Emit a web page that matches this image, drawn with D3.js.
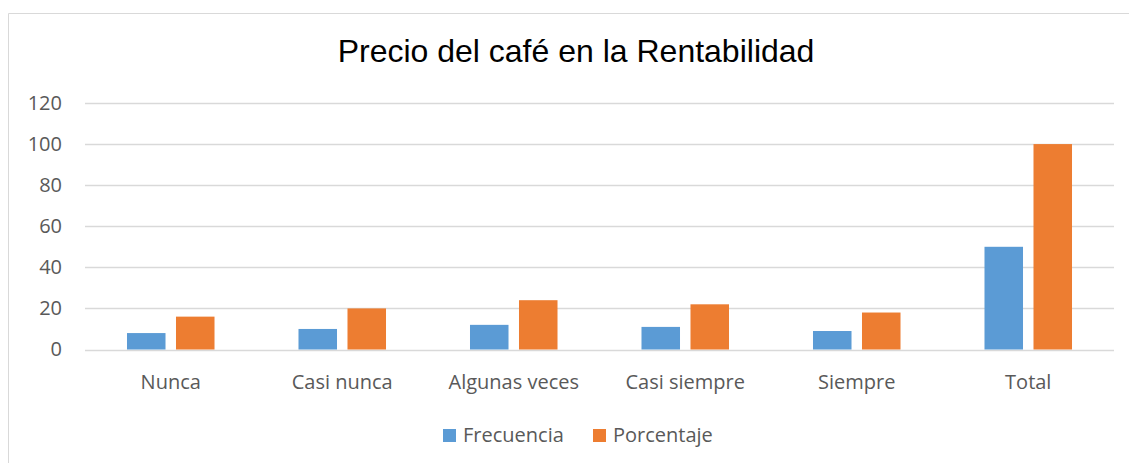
<!DOCTYPE html>
<html lang="es">
<head>
<meta charset="utf-8">
<title>Precio del café en la Rentabilidad</title>
<script src="https://cdn.jsdelivr.net/npm/d3@7"></script>
<style>
  body { margin: 0; background: #fff; }
  svg { display: block; }
  .tick text, .cat, .leg { font-family: "Open Sans", sans-serif; font-size: 20px; fill: #595959; }
</style>
</head>
<body>
<svg id="chart"></svg>
<script>
// datos
var categorias = ["Nunca", "Casi nunca", "Algunas veces", "Casi siempre", "Siempre", "Total"];
var series = ["Frecuencia", "Porcentaje"];
var frecuencia = [8, 10, 12, 11, 9, 50];
var porcentaje = [16, 20, 24, 22, 18, 100];
var yTicks = [0, 20, 40, 60, 80, 100, 120];

var width = 1129, height = 463;
var colores = { "Frecuencia": "#5b9bd5", "Porcentaje": "#ed7d31" };

var svg = d3.select("#chart").attr("width", width).attr("height", height);

// marco del gráfico
svg.append("path")
    .attr("d", "M8.5," + height + "V13.5H" + width)
    .attr("fill", "none")
    .attr("stroke", "#d9d9d9")
    .attr("stroke-width", 1);

svg.append("text")
    .attr("x", 576)
    .attr("y", 62)
    .attr("text-anchor", "middle")
    .style("font-family", "'Liberation Sans', Arial, sans-serif")
    .style("font-size", "32px")
    .style("fill", "#000")
    .text("Precio del café en la Rentabilidad");

var x0 = d3.scaleBand().domain(categorias).range([85, 1114]).padding(0);
var x1 = d3.scaleBand().domain(series).range([0, x0.bandwidth()])
    .paddingInner(0.214).paddingOuter(0.857);
var y = d3.scaleLinear().domain([0, 120]).range([349.5, 103]);

// rejilla
svg.append("g").selectAll("line")
    .data(yTicks)
    .enter().append("line")
    .attr("x1", 85).attr("x2", 1114)
    .attr("y1", function(d) { return Math.round(y(d)) + 0.5; })
    .attr("y2", function(d) { return Math.round(y(d)) + 0.5; })
    .attr("stroke", "#d9d9d9")
    .attr("stroke-width", 1.4);

var yAxis = svg.append("g")
    .attr("transform", "translate(62,0)")
    .call(d3.axisLeft(y).tickValues(yTicks).tickSize(0).tickPadding(0));
yAxis.select(".domain").remove();
yAxis.selectAll(".tick text").style("font-family", "'Open Sans', sans-serif").style("font-size", "20px").attr("fill", "#595959");

var filas = categorias.map(function(c, i) {
  return { cat: c, valores: [
    { serie: "Frecuencia", v: frecuencia[i] },
    { serie: "Porcentaje", v: porcentaje[i] }
  ]};
});

var grupos = svg.append("g").selectAll("g")
    .data(filas)
    .enter().append("g")
    .attr("transform", function(d) { return "translate(" + x0(d.cat) + ",0)"; });

grupos.selectAll("rect")
    .data(function(d) { return d.valores; })
    .enter().append("rect")
    .attr("x", function(d) { return x1(d.serie); })
    .attr("y", function(d) { return y(d.v); })
    .attr("width", x1.bandwidth())
    .attr("height", function(d) { return y(0) - y(d.v); })
    .attr("fill", function(d) { return colores[d.serie]; });

svg.append("g").selectAll("text")
    .data(categorias)
    .enter().append("text")
    .attr("class", "cat")
    .attr("x", function(d) { return x0(d) + x0.bandwidth() / 2; })
    .attr("y", 389)
    .attr("text-anchor", "middle")
    .text(function(d) { return d; });

// leyenda
var legX = [443, 593];
var leyenda = svg.append("g").selectAll("g")
    .data(series)
    .enter().append("g")
    .attr("transform", function(d, i) { return "translate(" + legX[i] + ",429)"; });
leyenda.append("rect")
    .attr("width", 13).attr("height", 13)
    .attr("fill", function(d) { return colores[d]; });
leyenda.append("text")
    .attr("class", "leg")
    .attr("x", 20)
    .attr("y", 12.5)
    .text(function(d) { return d; });
</script>
</body>
</html>
